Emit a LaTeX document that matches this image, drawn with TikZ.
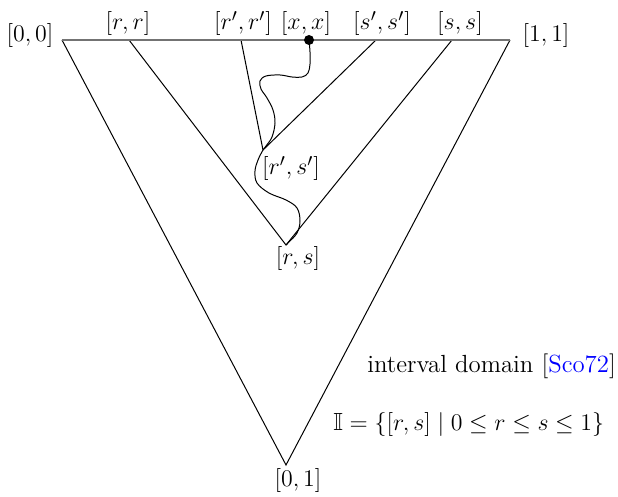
\documentclass[tikz,border=0pt]{standalone}
\usepackage{amssymb}
\usepackage{xcolor}
\begin{document}
\begin{tikzpicture}[x=0.5bp,y=-0.5bp,
  thin line/.style={line width=0.5pt,black},
  top line/.style={line width=1.1pt,black!55},
  lbl/.style={inner sep=0pt,anchor=base,font=\fontsize{12.45}{15}\selectfont},
  dotpt/.style={circle,fill=black,inner sep=0pt,minimum size=5bp}]
\useasboundingbox (0,0) rectangle (618,497);
% points
\coordinate (A) at (62,40);
\coordinate (B) at (510,40);
\coordinate (C) at (286,465);
\coordinate (rr) at (129,40);
\coordinate (ss) at (452,40);
\coordinate (rs) at (286,245);
\coordinate (rpr) at (241,40);
\coordinate (sps) at (376,40);
\coordinate (rpsp) at (263,150);
% triangle
\draw[thin line] (A) -- (C) -- (B);
\draw[thin line] (rr) -- (rs) -- (ss);
\draw[thin line] (rpr) -- (rpsp) -- (sps);
\draw[top line] (A) -- (B);
% curve
\node[dotpt] (xx) at (309,40) {};
\draw[thin line] plot[smooth,tension=0.6] coordinates {(309,40) (310,52) (310,64) (308,73) (302,77) (292,77) (280,75) (266,76) (260,81) (261,89) (267,98) (273,110) (275,123) (272,137) (266,146) (263,150) (258,160) (255,171) (257,183) (269,193) (286,200) (297,208) (300,221) (297,233) (289,242) (286,245)};
% labels
\node[lbl] (l00) at (30,42) {$[0,0]$};
\node[lbl] (l11) at (546,42) {$[1,1]$};
\node[lbl] (lrr) at (128,30) {$[r,r]$};
\node[lbl] (lrpr) at (243,30) {$[r',r']$};
\node[lbl] (lxx) at (306,30) {$[x,x]$};
\node[lbl] (lsps) at (382,30) {$[s',s']$};
\node[lbl] (lss) at (460,30) {$[s,s]$};
\node[lbl] (lrpsp) at (291,175) {$[r',s']$};
\node[lbl] (lrs) at (298,265) {$[r,s]$};
\node[lbl] (l01) at (298,486) {$[0,1]$};
\node[lbl,anchor=base west] (dom) at (367,372) {interval domain [\textcolor{blue}{Sco72}]};
\node[lbl,anchor=base west] (form) at (333,430) {$\mathbb{I}=\{[r,s]\mid 0\le r\le s\le 1\}$};
\end{tikzpicture}
\end{document}
